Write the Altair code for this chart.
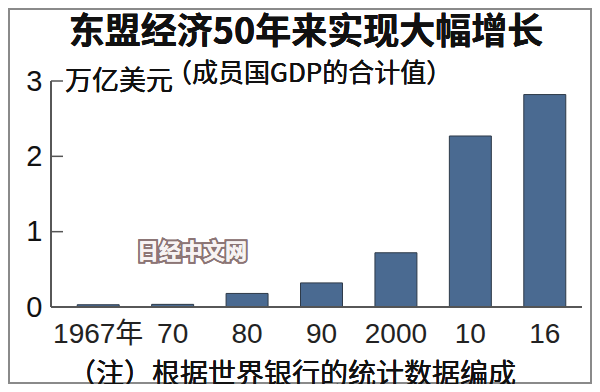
import altair as alt
import pandas as pd

years = ["1967年", "70", "80", "90", "2000", "10", "16"]
gdp = [0.03, 0.035, 0.18, 0.32, 0.72, 2.27, 2.82]
y_ticks = [0, 1, 2, 3]
inner_ticks = [1, 2, 3]

title_text = "东盟经济50年来实现大幅增长"
unit_text = "万亿美元"
sub_text = "（成员国GDP的合计值）"
note_text = "（注）根据世界银行的统计数据编成"
mark_text = "日经中文网"

CJK = "Noto Sans CJK SC"
NUM = "Liberation Sans, Arial, Noto Sans CJK SC"

W, H = 531, 226

df = pd.DataFrame({"year": years, "value": gdp})
tick_df = pd.DataFrame({"v": inner_ticks})

x_enc = alt.X(
    "year:N", sort=years,
    scale=alt.Scale(range=[10, 531], paddingInner=0.436, paddingOuter=0.218),
    axis=alt.Axis(title=None, ticks=False, domain=False, labelAngle=0,
                  labelFont=NUM, labelFontSize=28, labelColor="#222",
                  labelPadding=13),
)
y_enc = alt.Y(
    "value:Q", scale=alt.Scale(domain=[0, 3], nice=False),
    axis=alt.Axis(title=None, ticks=False, domain=False, grid=False,
                  values=y_ticks, format="d", labelFont=NUM, labelFontSize=29,
                  labelColor="#111", labelPadding=9),
)

bars = alt.Chart(df).mark_bar(fill="#4A6A91", stroke="#2E3A48", strokeWidth=1).encode(
    x=x_enc, y=y_enc
)

ticks = alt.Chart(tick_df).mark_rule(color="#555", strokeWidth=1.5).encode(
    y=alt.Y("v:Q"), x=alt.value(0), x2=alt.value(12)
)
yline = alt.Chart(tick_df).mark_rule(color="#555", strokeWidth=1.5).encode(
    x=alt.value(0), y=alt.value(0), y2=alt.value(H)
)
xline = alt.Chart(tick_df).mark_rule(color="#555", strokeWidth=1.5).encode(
    x=alt.value(0), x2=alt.value(W), y=alt.value(H)
)

def txt(text, x, y, size, align="center", weight="normal", font=CJK, color="#111"):
    return alt.Chart(tick_df).mark_text(
        align=align, baseline="middle", fontSize=size, fontWeight=weight,
        font=font, color=color
    ).encode(x=alt.value(x), y=alt.value(y), text=alt.value(text))

title = txt(title_text, 255, -48, 36, weight="bold")
unit = txt(unit_text, 14, 1, 27, align="left")
sub = txt(sub_text, 115, -7, 26, align="left")
note = txt(note_text, 241, 295, 28)

wm_outline = alt.Chart(tick_df).mark_text(
    align="center", baseline="middle", fontSize=22, fontWeight="bold", font=CJK,
    fill="#8c7676", stroke="#8c7676", strokeWidth=4
).encode(x=alt.value(141), y=alt.value(171), text=alt.value(mark_text))
wm_fill = alt.Chart(tick_df).mark_text(
    align="center", baseline="middle", fontSize=22, fontWeight="bold", font=CJK,
    fill="#f7f3f3"
).encode(x=alt.value(141), y=alt.value(171), text=alt.value(mark_text))

frame = alt.Chart(tick_df).mark_rect(fillOpacity=0, stroke="#8a8a8a", strokeWidth=2).encode(
    x=alt.value(-42), x2=alt.value(540), y=alt.value(-72), y2=alt.value(302)
)

chart = alt.layer(
    frame, bars, ticks, yline, xline, title, unit, sub, note, wm_outline, wm_fill
).properties(
    width=W, height=H,
    autosize=alt.AutoSizeParams(type="none"),
    padding={"left": 43, "top": 73, "right": 10, "bottom": 77},
    background="white",
).configure_view(stroke=None)

chart.save("out.html", embed_options={"renderer": "svg", "actions": False})
